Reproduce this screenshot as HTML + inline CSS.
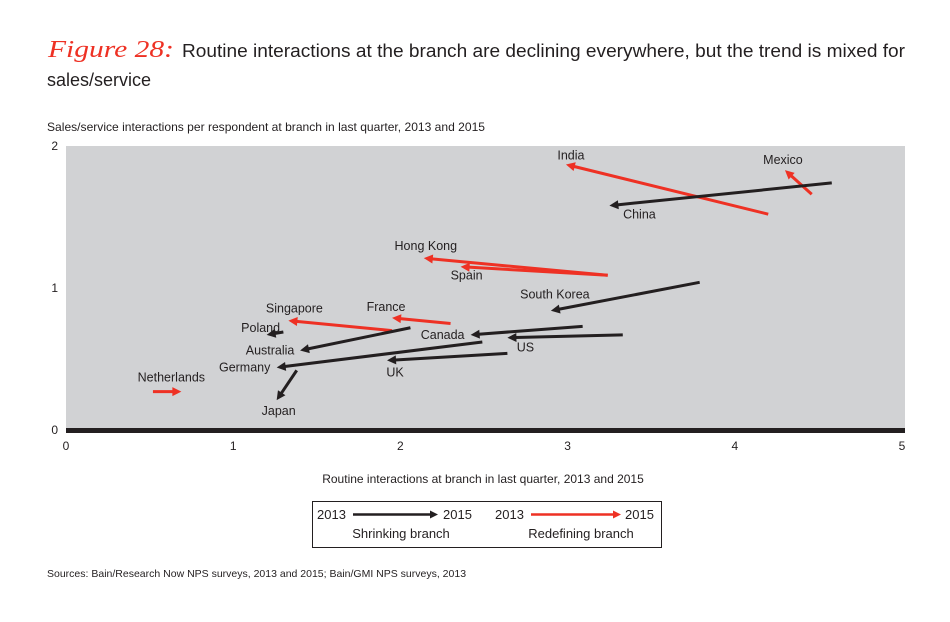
<!DOCTYPE html>
<html><head><meta charset="utf-8">
<style>
body{margin:0;background:#fff;width:950px;height:617px;overflow:hidden;font-family:"Liberation Sans",sans-serif;color:#231f20;}
svg text{font-family:"Liberation Sans",sans-serif;fill:#231f20;}
</style></head>
<body>
<svg id="chart" width="950" height="617" viewBox="0 0 950 617">
  <text x="48" y="57" font-size="24" font-style="italic" textLength="126" lengthAdjust="spacingAndGlyphs" style="fill:#ee3124;font-family:'Liberation Serif',serif">Figure 28:</text>
  <text x="182" y="57" font-size="18" textLength="723" lengthAdjust="spacingAndGlyphs">Routine interactions at the branch are declining everywhere, but the trend is mixed for</text>
  <text x="47" y="86" font-size="18">sales/service</text>
  <text x="47" y="131" font-size="12" textLength="438" lengthAdjust="spacingAndGlyphs">Sales/service interactions per respondent at branch in last quarter, 2013 and 2015</text>
  <rect x="66" y="146" width="839" height="284" fill="#d1d2d4"/>
  <g id="marks"></g>
  <rect x="66" y="428" width="839" height="5" fill="#231f20"/>
  <g id="ticks"></g>
  <text x="483" y="483" font-size="12" text-anchor="middle">Routine interactions at branch in last quarter, 2013 and 2015</text>
  <g>
    <rect x="312.5" y="501.5" width="349" height="46" fill="none" stroke="#231f20" stroke-width="1"/>
    <g>
      <text x="317" y="519" font-size="13">2013</text>
      <line x1="353" y1="514.5" x2="432" y2="514.5" stroke="#231f20" stroke-width="2.5"/>
      <polygon points="438,514.5 430,510.5 430,518.5" fill="#231f20"/>
      <text x="443" y="519" font-size="13">2015</text>
      <text x="401" y="538" font-size="13" text-anchor="middle">Shrinking branch</text>
    </g>
    <g>
      <text x="495" y="519" font-size="13">2013</text>
      <line x1="531" y1="514.5" x2="615" y2="514.5" stroke="#ee3124" stroke-width="2.5"/>
      <polygon points="621,514.5 613,510.5 613,518.5" fill="#ee3124"/>
      <text x="625" y="519" font-size="13">2015</text>
      <text x="581" y="538" font-size="13" text-anchor="middle">Redefining branch</text>
    </g>
  </g>
  <text x="47" y="577" font-size="10.5">Sources: Bain/Research Now NPS surveys, 2013 and 2015; Bain/GMI NPS surveys, 2013</text>
</svg>
<script>
const countries = ["India","Mexico","China","Hong Kong","Spain","South Korea","France","Singapore","Canada","US","Poland","Australia","Germany","UK","Japan","Netherlands"];
const routine2013 = [4.20,4.46,4.58,3.24,3.24,3.79,2.30,1.95,3.09,3.33,1.30,2.06,2.49,2.64,1.38,0.52];
const sales2013   = [1.52,1.66,1.74,1.09,1.09,1.04,0.75,0.70,0.73,0.67,0.69,0.72,0.62,0.54,0.42,0.27];
const routine2015 = [2.99,4.30,3.25,2.14,2.36,2.90,1.95,1.33,2.42,2.64,1.20,1.40,1.26,1.92,1.26,0.69];
const sales2015   = [1.87,1.83,1.58,1.21,1.15,0.84,0.79,0.77,0.67,0.65,0.67,0.56,0.44,0.49,0.21,0.27];
const segment     = ["red","red","black","red","red","black","red","red","black","black","black","black","black","black","black","red"];
const xTicks = [0,1,2,3,4,5];
const yTicks = [0,1,2];
// label offsets relative to the 2015 arrow tip (layout, not data)
const labelDX = [5,-2,30,2,6,4,-6,6,-28,18,-6,-30,-32,8,2,-10];
const labelDY = [-5,-6,13,-8,13,-12,-7,-8,4,14,-3,4,4,16,15,-10];

const X0=66, X1=902, Y0=430, Y1=146;
const xs = v => X0 + v*(X1-X0)/5;
const ys = v => Y0 - v*(Y0-Y1)/2;
const NS = "http://www.w3.org/2000/svg";
const ticks = document.getElementById("ticks");
xTicks.forEach(t=>{
  const el=document.createElementNS(NS,"text");
  el.setAttribute("x",xs(t)); el.setAttribute("y",450);
  el.setAttribute("font-size","12"); el.setAttribute("text-anchor","middle");
  el.textContent=t;
  
  
  ticks.appendChild(el);
});
yTicks.forEach(t=>{
  const el=document.createElementNS(NS,"text");
  el.setAttribute("x",58); el.setAttribute("y",ys(t)+4);
  el.setAttribute("font-size","12"); el.setAttribute("text-anchor","end");
  el.textContent=t;
  
  
  ticks.appendChild(el);
});
const marks=document.getElementById("marks");
countries.forEach((c,i)=>{
  const col = segment[i]==="red" ? "#ee3124" : "#231f20";
  const x1=xs(routine2013[i]), y1=ys(sales2013[i]), x2=xs(routine2015[i]), y2=ys(sales2015[i]);
  const g=document.createElementNS(NS,"g");
  
  
  const dx=x2-x1, dy=y2-y1, L=Math.hypot(dx,dy), ux=dx/L, uy=dy/L;
  const hl=9, hw=4.5;
  const bx=x2-ux*hl, by=y2-uy*hl;
  const ln=document.createElementNS(NS,"line");
  ln.setAttribute("x1",x1); ln.setAttribute("y1",y1);
  ln.setAttribute("x2",bx+ux*1); ln.setAttribute("y2",by+uy*1);
  ln.setAttribute("stroke",col); ln.setAttribute("stroke-width","3");
  g.appendChild(ln);
  const p=document.createElementNS(NS,"polygon");
  p.setAttribute("points",`${x2},${y2} ${bx-uy*hw},${by+ux*hw} ${bx+uy*hw},${by-ux*hw}`);
  p.setAttribute("fill",col);
  g.appendChild(p);
  const t=document.createElementNS(NS,"text");
  t.setAttribute("x",x2+labelDX[i]); t.setAttribute("y",y2+labelDY[i]);
  t.setAttribute("font-size","12.5"); t.setAttribute("text-anchor","middle");
  t.textContent=c;
  g.appendChild(t);
  marks.appendChild(g);
});
</script>
</body></html>
